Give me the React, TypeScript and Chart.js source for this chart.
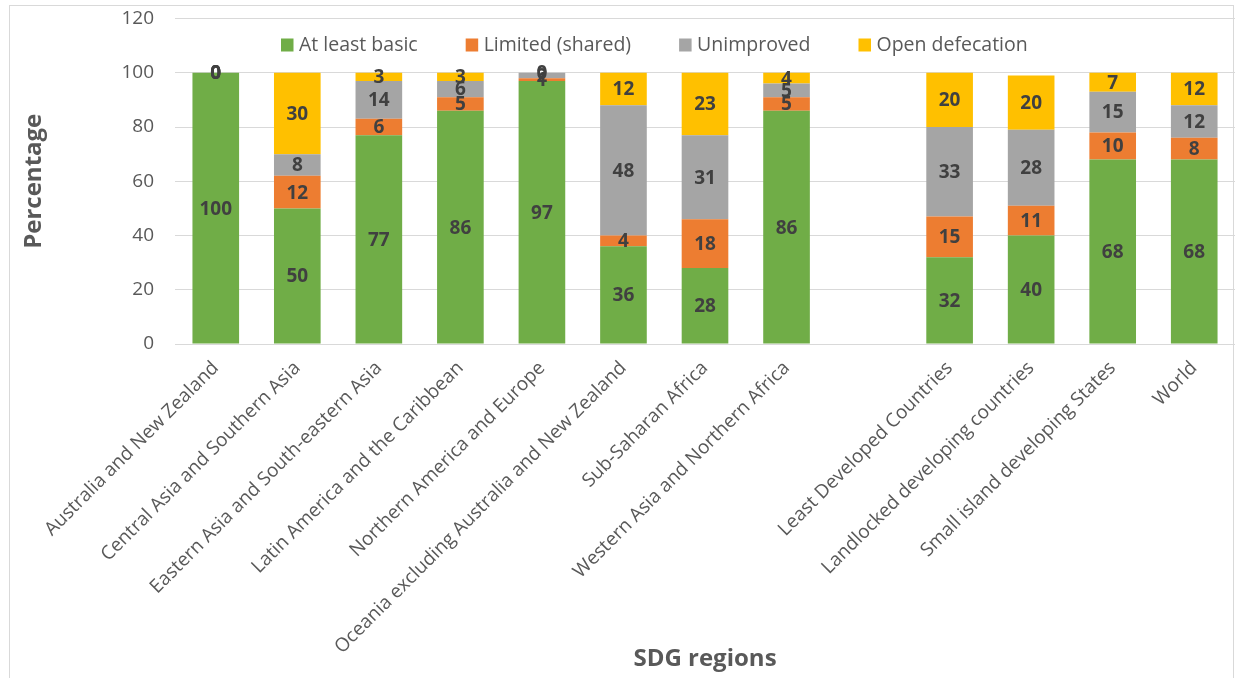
import { useEffect, useRef } from "react";
import { Chart, registerables } from "chart.js";

Chart.register(...registerables);

// Sanitation service levels by SDG region (percent of population)
const categories = [
  "Australia and New Zealand",
  "Central Asia and Southern Asia",
  "Eastern Asia and South-eastern Asia",
  "Latin America and the Caribbean",
  "Northern America and Europe",
  "Oceania excluding Australia and New Zealand",
  "Sub-Saharan Africa",
  "Western Asia and Northern Africa",
  "",
  "Least Developed Countries",
  "Landlocked developing countries",
  "Small island developing States",
  "World",
];

const atLeastBasic = [100, 50, 77, 86, 97, 36, 28, 86, null, 32, 40, 68, 68];
const limitedShared = [0, 12, 6, 5, 1, 4, 18, 5, null, 15, 11, 10, 8];
const unimproved = [0, 8, 14, 6, 2, 48, 31, 5, null, 33, 28, 15, 12];
const openDefecation = [0, 30, 3, 3, 0, 12, 23, 4, null, 20, 20, 7, 12];

const seriesNames = ["At least basic", "Limited (shared)", "Unimproved", "Open defecation"];
const seriesColors = ["#70AD47", "#ED7D31", "#A5A5A5", "#FFC000"];

const yMin = 0;
const yMax = 120;
const yStep = 20;

const FONT = '"Open Sans", sans-serif';
const TEXT_GREY = "#595959";
const LABEL_DARK = "#404040";

const W = 1237;
const H = 678;

export default function App() {
  const canvasRef = useRef<HTMLCanvasElement | null>(null);

  useEffect(() => {
    const canvas = canvasRef.current;
    if (!canvas) return;

    const frame = {
      id: "frame",
      beforeDraw(chart: any) {
        const ctx = chart.ctx;
        ctx.save();
        ctx.fillStyle = "#ffffff";
        ctx.fillRect(0, 0, chart.width, chart.height);
        ctx.strokeStyle = "#d9d9d9";
        ctx.lineWidth = 1;
        ctx.strokeRect(9.5, 5.5, 1224, 720);
        ctx.restore();
      },
    };

    const valueLabels = {
      id: "valueLabels",
      afterDatasetsDraw(chart: any) {
        const ctx = chart.ctx;
        ctx.save();
        ctx.font = `bold 19px ${FONT}`;
        ctx.fillStyle = LABEL_DARK;
        ctx.textAlign = "center";
        ctx.textBaseline = "middle";
        chart.data.datasets.forEach((ds: any, di: number) => {
          const meta = chart.getDatasetMeta(di);
          meta.data.forEach((el: any, i: number) => {
            const v = ds.data[i];
            if (v === null || v === undefined) return;
            const p = el.getProps(["x", "y", "base"], true);
            ctx.fillText(String(v), p.x, (p.y + p.base) / 2 + 1);
          });
        });
        ctx.restore();
      },
    };

    const legendAndTitles = {
      id: "legendAndTitles",
      afterDraw(chart: any) {
        const ctx = chart.ctx;
        const area = chart.chartArea;
        ctx.save();

        // legend row inside the plot, between the 100 and 120 gridlines
        ctx.font = `19.5px ${FONT}`;
        ctx.textBaseline = "middle";
        ctx.textAlign = "left";
        let x = 281;
        const ly = 45;
        seriesNames.forEach((name, i) => {
          ctx.fillStyle = seriesColors[i];
          ctx.fillRect(x, ly - 6.5, 12.5, 13);
          ctx.fillStyle = TEXT_GREY;
          ctx.fillText(name, x + 18, ly);
          x += 18 + ctx.measureText(name).width + 48;
        });

        // axis titles
        ctx.font = `bold 24px ${FONT}`;
        ctx.fillStyle = TEXT_GREY;
        ctx.textAlign = "center";
        ctx.textBaseline = "middle";
        ctx.fillText("SDG regions", (area.left + area.right) / 2, 659);

        ctx.translate(34, (area.top + area.bottom) / 2);
        ctx.rotate(-Math.PI / 2);
        ctx.fillText("Percentage", 0, 0);
        ctx.restore();
      },
    };

    const values = [atLeastBasic, limitedShared, unimproved, openDefecation];

    const chart = new Chart(canvas, {
      type: "bar",
      data: {
        labels: categories,
        datasets: values.map((data, i) => ({
          label: seriesNames[i],
          data,
          backgroundColor: seriesColors[i],
          borderWidth: 0,
          barPercentage: 0.572,
          categoryPercentage: 1,
        })),
      },
      options: {
        responsive: false,
        animation: false,
        layout: { padding: { left: 0, right: 2, top: 18.5, bottom: 0 } },
        plugins: {
          legend: { display: false },
          tooltip: { enabled: false },
          title: { display: false },
        },
        scales: {
          x: {
            stacked: true,
            grid: { display: false, drawTicks: false },
            border: { display: false },
            ticks: {
              autoSkip: false,
              minRotation: 45,
              maxRotation: 45,
              padding: 13,
              color: TEXT_GREY,
              font: { family: FONT, size: 19 },
            },
            afterFit(scale: any) {
              scale.height = H - 344;
              scale.paddingLeft = 0;
              scale.paddingRight = 0;
            },
          },
          y: {
            stacked: true,
            min: yMin,
            max: yMax,
            grid: { color: "#d9d9d9", lineWidth: 1, drawTicks: false },
            border: { display: false },
            ticks: {
              stepSize: yStep,
              padding: 21,
              color: TEXT_GREY,
              font: { family: FONT, size: 19 },
            },
            afterFit(scale: any) {
              scale.width = 175;
              scale.paddingTop = 0;
              scale.paddingBottom = 0;
            },
          },
        },
      },
      plugins: [frame, valueLabels, legendAndTitles],
    });

    return () => chart.destroy();
  }, []);

  return (
    <div style={{ position: "fixed", left: 0, top: 0, width: W, height: H, background: "#fff" }}>
      <canvas ref={canvasRef} width={W} height={H} style={{ width: W, height: H, display: "block" }} />
    </div>
  );
}
